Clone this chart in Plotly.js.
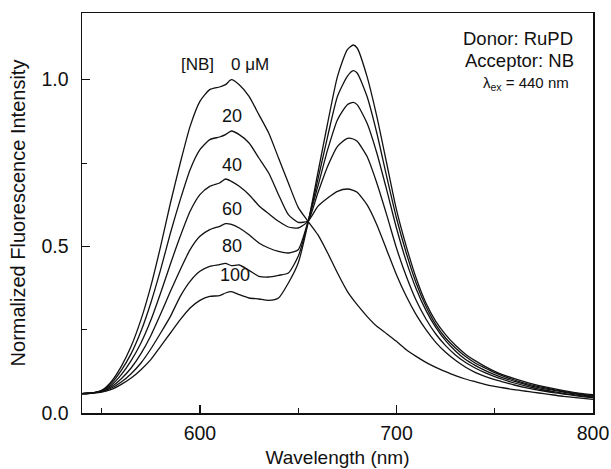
<!DOCTYPE html>
<html>
<head>
<meta charset="utf-8">
<script src="https://cdn.plot.ly/plotly-3.0.1.min.js"></script>
<style>html,body{margin:0;padding:0;background:#fff;}#chart{width:611px;height:469px;}</style>
</head>
<body>
<div id="chart"></div>
<script>
const wavelength = [540,545,550,555,560,565,570,575,580,585,590,595,600,605,610,613,616,620,625,630,635,640,645,650,655,660,665,670,675,678,680,685,690,695,700,705,710,715,720,725,730,735,740,745,750,755,760,765,770,775,780,785,790,795,800];

const nb0 = [0.058,0.060,0.068,0.095,0.14,0.20,0.28,0.38,0.50,0.63,0.75,0.86,0.935,0.97,0.978,0.985,1.0,0.985,0.95,0.895,0.84,0.765,0.69,0.617,0.575,0.535,0.48,0.42,0.365,0.34,0.325,0.29,0.26,0.238,0.215,0.19,0.17,0.152,0.137,0.124,0.112,0.102,0.094,0.086,0.08,0.075,0.07,0.066,0.062,0.058,0.054,0.05,0.047,0.044,0.041];

const nb20 = [0.058,0.060,0.067,0.09,0.128,0.178,0.245,0.33,0.43,0.54,0.64,0.73,0.79,0.82,0.828,0.835,0.846,0.835,0.81,0.765,0.72,0.655,0.595,0.572,0.576,0.62,0.645,0.665,0.672,0.668,0.662,0.625,0.565,0.49,0.415,0.35,0.295,0.25,0.212,0.182,0.158,0.138,0.122,0.11,0.1,0.092,0.084,0.077,0.071,0.066,0.061,0.057,0.053,0.049,0.046];

const nb40 = [0.058,0.060,0.066,0.084,0.115,0.157,0.21,0.278,0.36,0.447,0.53,0.605,0.655,0.68,0.69,0.702,0.695,0.68,0.655,0.622,0.598,0.575,0.558,0.555,0.575,0.66,0.74,0.80,0.824,0.822,0.815,0.77,0.69,0.595,0.495,0.41,0.338,0.282,0.237,0.202,0.174,0.152,0.135,0.121,0.109,0.099,0.09,0.082,0.075,0.069,0.064,0.059,0.055,0.051,0.048];

const nb60 = [0.058,0.060,0.065,0.079,0.103,0.135,0.178,0.232,0.297,0.365,0.43,0.49,0.53,0.55,0.56,0.568,0.566,0.555,0.535,0.51,0.495,0.485,0.48,0.49,0.575,0.68,0.79,0.88,0.925,0.932,0.925,0.87,0.78,0.67,0.555,0.455,0.373,0.308,0.257,0.217,0.186,0.161,0.143,0.128,0.115,0.104,0.095,0.087,0.079,0.073,0.068,0.063,0.058,0.054,0.051];

const nb80 = [0.058,0.060,0.064,0.075,0.093,0.118,0.15,0.192,0.24,0.29,0.35,0.395,0.425,0.44,0.445,0.449,0.442,0.444,0.428,0.41,0.408,0.413,0.42,0.47,0.572,0.70,0.83,0.95,1.01,1.027,1.02,0.95,0.84,0.71,0.585,0.48,0.39,0.32,0.265,0.225,0.195,0.17,0.15,0.135,0.121,0.109,0.099,0.09,0.082,0.076,0.07,0.065,0.06,0.056,0.053];

const nb100 = [0.058,0.060,0.063,0.071,0.086,0.105,0.13,0.16,0.20,0.24,0.28,0.315,0.338,0.35,0.352,0.36,0.364,0.355,0.345,0.342,0.338,0.345,0.39,0.45,0.57,0.72,0.87,1.01,1.09,1.104,1.095,1.01,0.89,0.75,0.61,0.50,0.405,0.33,0.275,0.235,0.203,0.177,0.157,0.14,0.125,0.113,0.103,0.094,0.086,0.079,0.073,0.067,0.062,0.058,0.055];

const seriesNames = ['0 μM','20 μM','40 μM','60 μM','80 μM','100 μM'];
const seriesValues = [nb0, nb20, nb40, nb60, nb80, nb100];

const curveLabels = ['20','40','60','80','100'];
const curveLabelX = [616.5,616.5,616.5,616.5,618];
const curveLabelY = [0.892,0.743,0.611,0.50,0.413];

const traces = seriesValues.map((v, i) => ({
  x: wavelength, y: v, name: seriesNames[i], type: 'scatter', mode: 'lines',
  line: {color: '#111', width: 1.3, shape: 'spline', smoothing: 0.6},
  hoverinfo: 'skip', showlegend: false
}));

const FONT = 'Liberation Sans, Arial, sans-serif';
const annotations = curveLabels.map((t, i) => ({
  x: curveLabelX[i], y: curveLabelY[i], xref: 'x', yref: 'y', text: t, showarrow: false,
  font: {family: FONT, size: 18, color: '#111'}
}));
annotations.push({x: 599, y: 1.045, xref: 'x', yref: 'y', text: '[NB]', showarrow: false, font: {family: FONT, size: 17, color: '#111'}});
annotations.push({x: 625.5, y: 1.045, xref: 'x', yref: 'y', text: '0 μM', showarrow: false, font: {family: FONT, size: 17, color: '#111'}});
annotations.push({x: 791, y: 1.123, xref: 'x', yref: 'y', xanchor: 'right', text: 'Donor: RuPD', showarrow: false, font: {family: FONT, size: 18.5, color: '#111'}});
annotations.push({x: 791.5, y: 1.057, xref: 'x', yref: 'y', xanchor: 'right', text: 'Acceptor: NB', showarrow: false, font: {family: FONT, size: 18.5, color: '#111'}});
annotations.push({x: 789, y: 0.99, xref: 'x', yref: 'y', xanchor: 'right', text: 'λ<sub>ex</sub> = 440 nm', showarrow: false, font: {family: FONT, size: 15, color: '#111'}});

const axisCommon = {
  showline: true, mirror: true, linecolor: '#111', linewidth: 1.5,
  ticks: 'inside', ticklen: 8, tickwidth: 1.3, tickcolor: '#111',
  showgrid: false, zeroline: false,
  tickfont: {family: FONT, size: 19.5, color: '#111'}
};

const layout = {
  width: 611, height: 469,
  margin: {l: 82, r: 18, t: 13, b: 56},
  paper_bgcolor: '#fff', plot_bgcolor: '#fff',
  font: {family: FONT, color: '#111'},
  xaxis: Object.assign({}, axisCommon, {
    range: [540, 800], tick0: 0, dtick: 100, ticklabelstandoff: 2,
    minor: {dtick: 50, ticks: 'inside', ticklen: 5, tickwidth: 1, tickcolor: '#111', showgrid: false},
    title: {text: 'Wavelength (nm)', font: {family: FONT, size: 19, color: '#111'}, standoff: 8}
  }),
  yaxis: Object.assign({}, axisCommon, {
    range: [0, 1.2], tick0: 0, dtick: 0.5, tickformat: '.1f', ticklabelstandoff: 8,
    minor: {dtick: 0.25, ticks: 'inside', ticklen: 5, tickwidth: 1, tickcolor: '#111', showgrid: false},
    title: {text: 'Normalized Fluorescence Intensity', font: {family: FONT, size: 20, color: '#111'}, standoff: 10}
  }),
  annotations: annotations,
  showlegend: false
};

Plotly.newPlot('chart', traces, layout, {staticPlot: true, displayModeBar: false});
</script>
</body>
</html>
